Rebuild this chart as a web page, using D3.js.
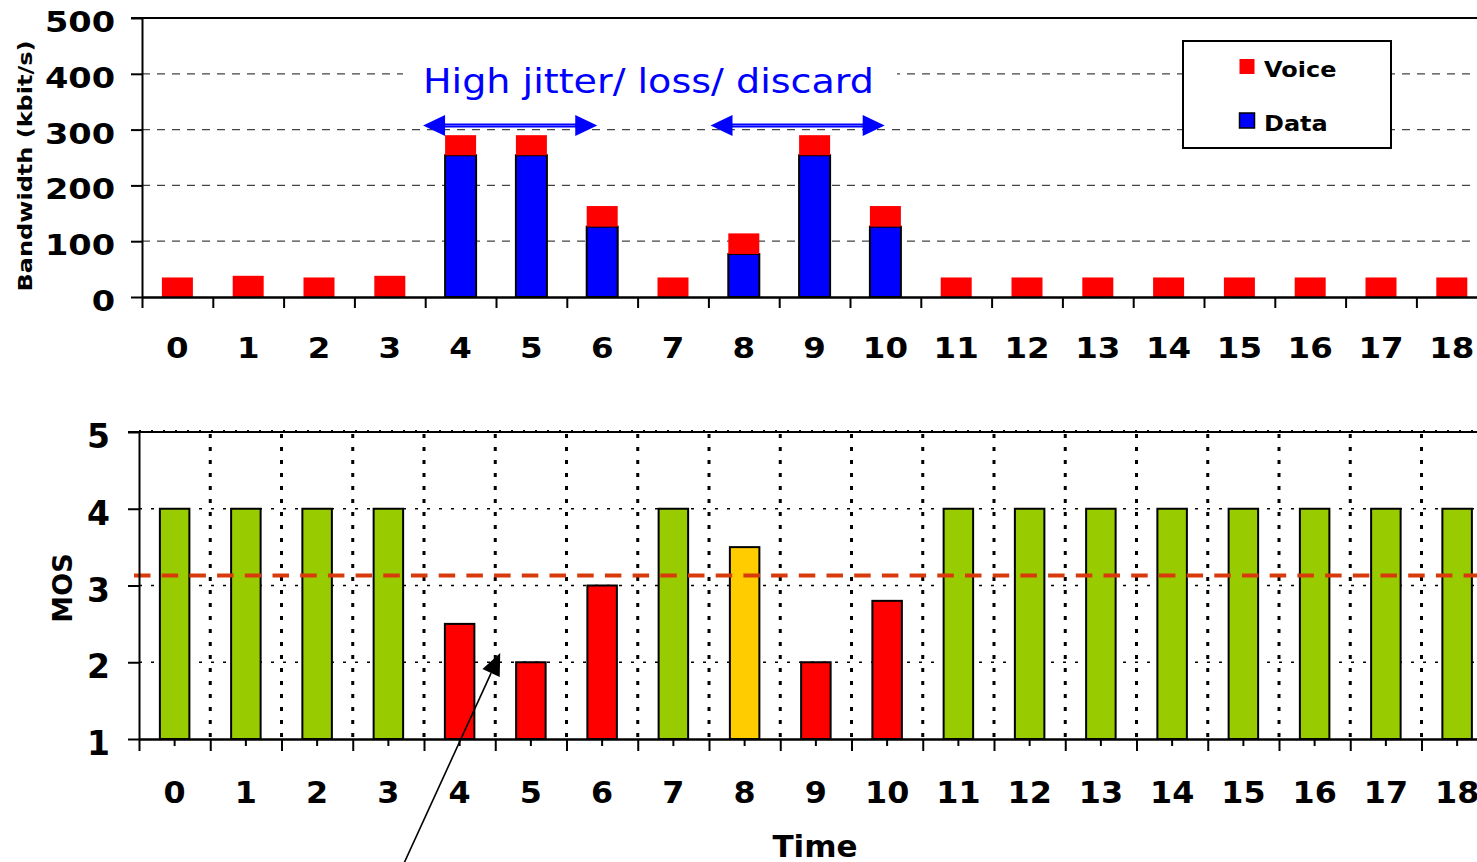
<!DOCTYPE html>
<html><head><meta charset="utf-8">
<script src="https://cdn.jsdelivr.net/npm/d3@7"></script>
<style>html,body{margin:0;padding:0;background:#fff;overflow:hidden}</style>
</head><body>
<svg id="chart" width="1477" height="862"></svg>
<script>
// ---------------- data ----------------
const categories = ["0","1","2","3","4","5","6","7","8","9","10","11","12","13","14","15","16","17","18"];
const voiceKbps = [35,38,35,38,36,36,37,35,37,36,37,35,35,35,35,35,35,35,35];
const dataKbps  = [0,0,0,0,254,254,126,0,77,254,126,0,0,0,0,0,0,0,0];
const mosValues = [4,4,4,4,2.5,2,3,4,3.5,2,2.8,4,4,4,4,4,4,4,4];
const mosQuality = ["good","good","good","good","bad","bad","bad","good","fair","bad","bad","good","good","good","good","good","good","good","good"];
const bwTicks = [0,100,200,300,400,500];
const mosTicks = [1,2,3,4,5];
const mosThreshold = 3.13;
const seriesNames = ["Voice","Data"];
const seriesColors = ["#FF0000","#0000FF"];
const qualityColors = {good:"#99CC00", fair:"#FFCC00", bad:"#FF0000"};
const annotationText = "High jitter/ loss/ discard";
const bwTitle = "Bandwidth (kbit/s)";
const mosTitle = "MOS";
const timeTitle = "Time";

// ---------------- setup ----------------
const FONT = "Verdana, 'DejaVu Sans', sans-serif";
const svg = d3.select("#chart").attr("font-family", FONT);
const W = 1477;

// ================= TOP CHART =================
const topBand = 70.8;
const xTop = d3.scaleBand().domain(categories).range([142, 142 + 19 * topBand]).padding(0);
const xTopLin = d3.scaleLinear().domain([0, 19]).range(xTop.range());
const yTop = d3.scaleLinear().domain([0, 500]).range([297, 18]);
const gTop = svg.append("g");

// gridlines
gTop.append("g").selectAll("line").data(bwTicks.filter(d => d > 0 && d < 500)).join("line")
  .attr("x1", 142).attr("x2", W).attr("y1", d => yTop(d)).attr("y2", d => yTop(d))
  .attr("stroke", "#444").attr("stroke-width", 1.3).attr("stroke-dasharray", "8,7");
// top border
gTop.append("line").attr("x1", 131).attr("x2", W).attr("y1", yTop(500)).attr("y2", yTop(500))
  .attr("stroke", "#000").attr("stroke-width", 2);

// stacked bars
const topBarW = 31;
const stackData = categories.map((c, i) => ({cat: c, Data: dataKbps[i], Voice: voiceKbps[i]}));
const stacked = d3.stack().keys(["Data", "Voice"])(stackData);
gTop.append("g").selectAll("rect").data(stacked[0].filter(d => d[1] - d[0] > 0)).join("rect")
  .attr("x", d => xTop(d.data.cat) + (xTop.bandwidth() - topBarW) / 2)
  .attr("width", topBarW)
  .attr("y", d => yTop(d[1]))
  .attr("height", d => yTop(d[0]) - yTop(d[1]))
  .attr("fill", seriesColors[1]).attr("stroke", "#000").attr("stroke-width", 2);
gTop.append("g").selectAll("rect").data(stacked[1]).join("rect")
  .attr("x", d => xTop(d.data.cat) + (xTop.bandwidth() - topBarW) / 2)
  .attr("width", topBarW)
  .attr("y", d => yTop(d[1]))
  .attr("height", d => yTop(d[0]) - yTop(d[1]))
  .attr("fill", seriesColors[0]);

// y axis
const yAxTop = gTop.append("g").attr("transform", "translate(142,0)")
  .call(d3.axisLeft(yTop).tickValues(bwTicks).tickSize(11).tickSizeOuter(0));
yAxTop.select(".domain").attr("stroke-width", 2);
yAxTop.selectAll(".tick line").attr("stroke-width", 2);
yAxTop.selectAll(".tick text").attr("font-size", 28).attr("font-weight", "bold").attr("fill", "#000")
  .attr("font-family", FONT).attr("x", -27 / 1.2).attr("dy", 13.5).attr("transform", "scale(1.2,1)");

// x axis boundary ticks
const xAxTop = gTop.append("g").attr("transform", "translate(0,297)")
  .call(d3.axisBottom(xTopLin).tickValues(d3.range(20)).tickSize(11).tickSizeOuter(0).tickFormat(""));
xAxTop.select(".domain").attr("stroke-width", 2.5);
xAxTop.selectAll(".tick line").attr("stroke-width", 2);
const xLabTop = gTop.append("g").attr("transform", "translate(0,297)")
  .call(d3.axisBottom(xTop).tickSize(0).tickPadding(40));
xLabTop.select(".domain").remove();
xLabTop.selectAll(".tick text").attr("font-size", 29).attr("font-weight", "bold").attr("fill", "#000")
  .attr("font-family", FONT).attr("transform", "scale(1.12,1)");

// y title
svg.append("text").text(bwTitle)
  .attr("transform", "translate(32,166) rotate(-90) scale(1.2,1)")
  .attr("text-anchor", "middle").attr("font-size", 20).attr("font-weight", "bold");

// annotation: text with white background
const annX = 423, annBase = 93;
gTop.append("rect").attr("x", 403).attr("y", 60).attr("width", 494).attr("height", 42).attr("fill", "#fff");
gTop.append("text").text(annotationText).attr("x", 0).attr("y", 0)
  .attr("transform", `translate(${annX},${annBase}) scale(1.12,1)`)
  .attr("font-size", 34).attr("fill", "#0000FF");

// double-headed arrows (span in category units)
const arrowSpans = [[3.97, 6.43], [8.03, 10.49]];
const arrY = 125.5, headL = 22, headH = 10.5;
arrowSpans.forEach(([a, b]) => {
  const x1 = xTopLin(a), x2 = xTopLin(b);
  gTop.append("line").attr("x1", x1 + headL - 2).attr("x2", x2 - headL + 2).attr("y1", arrY).attr("y2", arrY)
    .attr("stroke", "#0000FF").attr("stroke-width", 4);
  gTop.append("line").attr("x1", x1 + headL).attr("x2", x2 - headL).attr("y1", arrY).attr("y2", arrY)
    .attr("stroke", "#7070ff").attr("stroke-width", 0.8);
  gTop.append("path").attr("d", `M${x1},${arrY} L${x1 + headL},${arrY - headH} L${x1 + headL},${arrY + headH} Z`).attr("fill", "#0000FF");
  gTop.append("path").attr("d", `M${x2},${arrY} L${x2 - headL},${arrY - headH} L${x2 - headL},${arrY + headH} Z`).attr("fill", "#0000FF");
});

// legend
const leg = svg.append("g");
leg.append("rect").attr("x", 1183).attr("y", 41).attr("width", 208).attr("height", 107)
  .attr("fill", "#fff").attr("stroke", "#000").attr("stroke-width", 2);
seriesNames.forEach((name, i) => {
  const y0 = 59 + i * 54;
  leg.append("rect").attr("x", 1239.5).attr("y", y0).attr("width", 15).attr("height", 15)
    .attr("fill", seriesColors[i]).attr("stroke", i === 1 ? "#000" : "none").attr("stroke-width", 1.5);
  leg.append("text").text(name).attr("transform", `translate(1264,${y0 + 18}) scale(1.09,1)`)
    .attr("font-size", 22).attr("font-weight", "bold");
});

// ================= BOTTOM CHART =================
const botBand = 71.25;
const xBot = d3.scaleBand().domain(categories).range([139, 139 + 19 * botBand]).padding(0);
const xBotLin = d3.scaleLinear().domain([0, 19]).range(xBot.range());
const yBot = d3.scaleLinear().domain([1, 5]).range([739, 432]);
const gBot = svg.append("g");

// horizontal dotted gridlines
gBot.append("g").selectAll("line").data(mosTicks.filter(d => d > 1 && d < 5)).join("line")
  .attr("x1", 139).attr("x2", W).attr("y1", d => yBot(d)).attr("y2", d => yBot(d))
  .attr("stroke", "#000").attr("stroke-width", 1.6).attr("stroke-dasharray", "3,9");
// vertical dotted gridlines at category boundaries
gBot.append("g").selectAll("line").data(d3.range(1, 20)).join("line")
  .attr("x1", d => xBotLin(d)).attr("x2", d => xBotLin(d)).attr("y1", 434).attr("y2", 739)
  .attr("stroke", "#000").attr("stroke-width", 3).attr("stroke-dasharray", "4,9");
// top border
gBot.append("line").attr("x1", 128).attr("x2", W).attr("y1", yBot(5)).attr("y2", yBot(5))
  .attr("stroke", "#000").attr("stroke-width", 2);
gBot.append("line").attr("x1", 139).attr("x2", W).attr("y1", yBot(5) - 1.5).attr("y2", yBot(5) - 1.5)
  .attr("stroke", "#000").attr("stroke-width", 1.2).attr("stroke-dasharray", "2,10");

// MOS bars
const botBarW = 29.5;
gBot.append("g").selectAll("rect").data(mosValues).join("rect")
  .attr("x", (d, i) => xBot(categories[i]) + (xBot.bandwidth() - botBarW) / 2)
  .attr("width", botBarW)
  .attr("y", d => yBot(d))
  .attr("height", d => yBot(1) - yBot(d))
  .attr("fill", (d, i) => qualityColors[mosQuality[i]])
  .attr("stroke", "#000").attr("stroke-width", 2);

// threshold line
gBot.append("line").attr("x1", 134).attr("x2", W).attr("y1", yBot(mosThreshold)).attr("y2", yBot(mosThreshold))
  .attr("stroke", "#D83A0C").attr("stroke-width", 4).attr("stroke-dasharray", "16.5,11.2");

// y axis
const yAxBot = gBot.append("g").attr("transform", "translate(139,0)")
  .call(d3.axisLeft(yBot).tickValues(mosTicks).tickSize(11).tickSizeOuter(0).tickFormat(d3.format("d")));
yAxBot.select(".domain").attr("stroke-width", 2);
yAxBot.selectAll(".tick line").attr("stroke-width", 2);
yAxBot.selectAll(".tick text").attr("font-size", 33).attr("font-weight", "bold").attr("fill", "#000")
  .attr("font-family", FONT).attr("x", -29).attr("dy", 15.5);

// x axis: major ticks at boundaries
const xAxBot = gBot.append("g").attr("transform", "translate(0,739)")
  .call(d3.axisBottom(xBotLin).tickValues(d3.range(20)).tickSize(12).tickSizeOuter(0).tickFormat(""));
xAxBot.select(".domain").attr("stroke-width", 2.5);
xAxBot.selectAll(".tick line").attr("stroke-width", 2);
const xLabBot = gBot.append("g").attr("transform", "translate(0,739)")
  .call(d3.axisBottom(xBot).tickSize(7).tickPadding(36));
xLabBot.select(".domain").remove();
xLabBot.selectAll(".tick line").attr("stroke-width", 2);
xLabBot.selectAll(".tick text").attr("font-size", 30).attr("font-weight", "bold").attr("fill", "#000")
  .attr("font-family", FONT).attr("transform", "scale(1.06,1)");

// y title
svg.append("text").text(mosTitle)
  .attr("transform", "translate(72,588) rotate(-90)")
  .attr("text-anchor", "middle").attr("font-size", 27).attr("font-weight", "bold");
// x title
svg.append("text").text(timeTitle).attr("x", 815).attr("y", 857)
  .attr("text-anchor", "middle").attr("font-size", 31).attr("font-weight", "bold");

// pointer arrow annotation
const tip = [xBotLin(5.07), yBot(2.12)];
const tail = [400, 872];
const ang = Math.atan2(tip[1] - tail[1], tip[0] - tail[0]);
const hL = 22, hW = 9.5;
const bx = tip[0] - hL * Math.cos(ang), by = tip[1] - hL * Math.sin(ang);
svg.append("line").attr("x1", tail[0]).attr("y1", tail[1]).attr("x2", bx).attr("y2", by)
  .attr("stroke", "#000").attr("stroke-width", 1.6);
svg.append("path")
  .attr("d", `M${tip[0]},${tip[1]} L${bx + hW * Math.sin(ang)},${by - hW * Math.cos(ang)} L${bx - hW * Math.sin(ang)},${by + hW * Math.cos(ang)} Z`)
  .attr("fill", "#000");
</script>
</body></html>
